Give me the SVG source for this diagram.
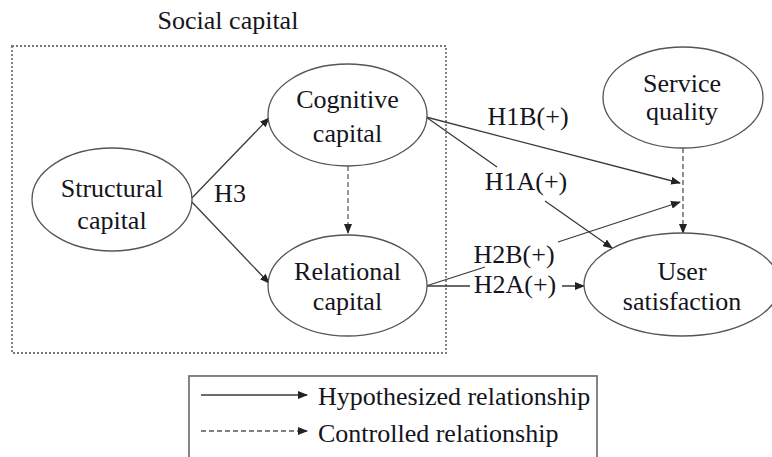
<svg xmlns="http://www.w3.org/2000/svg" width="772" height="457" viewBox="0 0 772 457">
<style>
text{font-family:"Liberation Serif","Times New Roman",serif;font-size:26px;fill:#141420;text-anchor:middle}
.node ellipse{fill:#fff;stroke:#555;stroke-width:1.3}
.solid{fill:none;stroke:#3a3a3a;stroke-width:1.3}
.dash{fill:none;stroke:#555;stroke-width:1.3;stroke-dasharray:5,3}
.gdash{fill:none;stroke:#999;stroke-width:2;stroke-dasharray:5,3}
</style>
<defs>
<marker id="ah" markerUnits="userSpaceOnUse" markerWidth="10" markerHeight="8" refX="9" refY="4" orient="auto">
<path d="M0,0 L10,4 L0,8 Z" fill="#222"/>
</marker>
</defs>
<rect x="12" y="46" width="434" height="307" fill="none" stroke="#777" stroke-width="1.8" stroke-dasharray="2,2"/>
<text x="228" y="29">Social capital</text>
<g id="connectors">
<path class="solid" d="M190,200 L269,118" marker-end="url(#ah)"/>
<path class="solid" d="M190,200 L269,283" marker-end="url(#ah)"/>
<path class="gdash" d="M348,166 L348,233" marker-end="url(#ah)"/>
<path class="solid" d="M426,117 L680,183" marker-end="url(#ah)"/>
<path class="solid" d="M426,117 L497,167 M545,201 L612,248" marker-end="url(#ah)"/>
<path class="solid" d="M426,286 L485,267 M558,242 L680,202" marker-end="url(#ah)"/>
<path class="solid" d="M426,286 L470,286 M562,286 L584,286" marker-end="url(#ah)"/>
<path class="dash" d="M683,148 L683,233" marker-end="url(#ah)"/>
</g>
<g id="structural" class="node">
<ellipse cx="112" cy="199.5" rx="80" ry="51.5"/>
<text x="112" y="197">Structural</text>
<text x="112" y="229">capital</text>
</g>
<g id="cognitive" class="node">
<ellipse cx="347.5" cy="115" rx="79.5" ry="51"/>
<text x="347.5" y="108">Cognitive</text>
<text x="347.5" y="142">capital</text>
</g>
<g id="relational" class="node">
<ellipse cx="347.5" cy="285.5" rx="79.5" ry="50.5"/>
<text x="347.5" y="280">Relational</text>
<text x="347.5" y="310">capital</text>
</g>
<g id="service" class="node">
<ellipse cx="683" cy="97.5" rx="80" ry="50.5"/>
<text x="682" y="92">Service</text>
<text x="682" y="120">quality</text>
</g>
<g id="satisfaction" class="node">
<ellipse cx="682" cy="284.5" rx="98" ry="51.5"/>
<text x="682" y="280">User</text>
<text x="682" y="310">satisfaction</text>
</g>
<g id="labels">
<text x="230" y="202">H3</text>
<text x="528" y="125">H1B(+)</text>
<text x="526" y="190">H1A(+)</text>
<text x="514" y="263">H2B(+)</text>
<text x="515" y="293">H2A(+)</text>
</g>
<g id="legend">
<rect x="189" y="376" width="408" height="95" fill="none" stroke="#777" stroke-width="1.8"/>
<path class="solid" d="M201,395 L307,395" marker-end="url(#ah)"/>
<path class="dash" d="M201,431 L307,431" marker-end="url(#ah)"/>
<text x="318" y="405" style="text-anchor:start">Hypothesized relationship</text>
<text x="318" y="442" style="text-anchor:start">Controlled relationship</text>
</g>
</svg>
